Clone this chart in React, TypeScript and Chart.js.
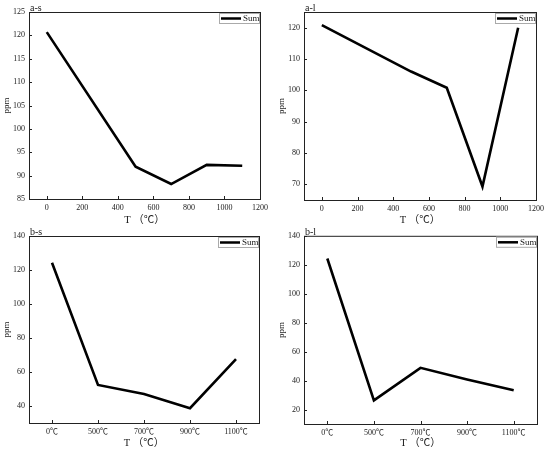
import { useEffect, useRef } from 'react';
import { Chart, registerables } from 'chart.js';

Chart.register(...registerables);

const FONT = "'Liberation Serif', 'Noto Sans CJK SC', serif";
const INK = '#1a1a1a';

// top row: temperature on a linear axis
const aTemps = [0, 500, 700, 900, 1100];
const asValues = [120.7, 91.9, 88.2, 92.3, 92.1];
const alValues = [120.8, 106, 100.8, 69.3, 120];
const aXTicks = [0, 200, 400, 600, 800, 1000, 1200];
const asYTicks = [85, 90, 95, 100, 105, 110, 115, 120, 125];
const alYTicks = [70, 80, 90, 100, 110, 120];

// bottom row: temperature as categories
const bCategories = ['0℃', '500℃', '700℃', '900℃', '1100℃'];
const bsValues = [124.3, 52.4, 47.0, 38.7, 67.6];
const blValues = [124.3, 26.3, 48.8, 40.7, 33.3];
const bsYTicks = [40, 60, 80, 100, 120, 140];
const blYTicks = [20, 40, 60, 80, 100, 120, 140];

const SERIES = 'Sum';
const X_TITLE = 'T （℃）';
const Y_TITLE = 'ppm';

const W = 275;
const H = 227;

type Box = { left: number; top: number; right: number; bottom: number; titlePad: number };

type PanelProps = {
  title: string;
  box: Box;
  xKind: 'linear' | 'category';
  values: number[];
  yMin: number;
  yMax: number;
  yTicks: number[];
};

// frame, inward ticks, panel label and boxed legend
const decorPlugin = {
  id: 'decor',
  afterDatasetsDraw(chart: any, _args: any, opts: any) {
    const { ctx, chartArea: a, scales } = chart;
    const x = scales.x;
    const y = scales.y;
    ctx.save();
    ctx.strokeStyle = '#222';
    ctx.lineWidth = 1;
    ctx.strokeRect(a.left + 0.5, a.top + 0.5, a.right - a.left, a.bottom - a.top);

    ctx.beginPath();
    x.ticks.forEach((_t: any, i: number) => {
      const px = Math.round(x.getPixelForTick(i)) + 0.5;
      ctx.moveTo(px, a.bottom);
      ctx.lineTo(px, a.bottom - 3);
    });
    y.ticks.forEach((_t: any, i: number) => {
      const py = Math.round(y.getPixelForTick(i)) + 0.5;
      ctx.moveTo(a.left, py);
      ctx.lineTo(a.left + 3, py);
    });
    ctx.stroke();

    // panel label
    ctx.fillStyle = INK;
    ctx.font = `10px ${FONT}`;
    ctx.textBaseline = 'alphabetic';
    ctx.textAlign = 'left';
    ctx.fillText(opts.label, a.left + 1, a.top - 1);

    // legend
    const lw = 41;
    const lh = 11;
    const lx = a.right - lw;
    const ly = a.top + 1;
    ctx.fillStyle = '#fff';
    ctx.fillRect(lx, ly, lw, lh);
    ctx.strokeStyle = '#aaa';
    ctx.strokeRect(lx + 0.5, ly + 0.5, lw - 1, lh - 1);
    ctx.strokeStyle = '#000';
    ctx.lineWidth = 2.5;
    ctx.beginPath();
    ctx.moveTo(lx + 2, ly + lh / 2);
    ctx.lineTo(lx + 22, ly + lh / 2);
    ctx.stroke();
    ctx.fillStyle = INK;
    ctx.font = `9px ${FONT}`;
    ctx.textBaseline = 'middle';
    ctx.fillText(chart.data.datasets[0].label, lx + 24, ly + lh / 2 + 0.5);
    ctx.restore();
  },
};

function Panel({ title, box, xKind, values, yMin, yMax, yTicks }: PanelProps) {
  const canvasRef = useRef<HTMLCanvasElement>(null);

  useEffect(() => {
    if (!canvasRef.current) return;
    const tickFont = { family: FONT, size: 8 };
    const isLinear = xKind === 'linear';

    const xScale: any = isLinear
      ? {
          type: 'linear',
          min: -100,
          max: 1200,
          afterBuildTicks: (s: any) => {
            s.ticks = aXTicks.map((v) => ({ value: v }));
          },
        }
      : { type: 'category', offset: true };

    const chart = new Chart(canvasRef.current, {
      type: 'line',
      data: {
        labels: isLinear ? undefined : bCategories,
        datasets: [
          {
            label: SERIES,
            data: isLinear ? aTemps.map((t, i) => ({ x: t, y: values[i] })) : values,
            borderColor: '#000',
            borderWidth: 2.6,
            pointRadius: 0,
            fill: false,
            tension: 0,
          } as any,
        ],
      },
      options: {
        responsive: false,
        animation: false,
        layout: { padding: { left: 0, top: box.top, right: W - box.right, bottom: 0 } },
        plugins: {
          legend: { display: false },
          tooltip: { enabled: false },
          decor: { label: title },
        } as any,
        scales: {
          x: {
            ...xScale,
            grid: { display: false, drawTicks: false },
            border: { display: false },
            ticks: {
              font: tickFont,
              color: INK,
              padding: 4,
              maxRotation: 0,
              autoSkip: false,
              ...(isLinear ? { callback: (v: any) => String(v) } : {}),
            },
            title: {
              display: true,
              text: X_TITLE,
              font: { family: FONT, size: 10.5 },
              color: INK,
              padding: { top: 0, bottom: box.titlePad },
            },
            afterFit: (s: any) => {
              s.height = H - box.bottom;
            },
          },
          y: {
            type: 'linear',
            min: yMin,
            max: yMax,
            afterBuildTicks: (s: any) => {
              s.ticks = yTicks.map((v) => ({ value: v }));
            },
            grid: { display: false, drawTicks: false },
            border: { display: false },
            ticks: { font: tickFont, color: INK, padding: 4, callback: (v: any) => String(v) },
            title: {
              display: true,
              text: Y_TITLE,
              font: { family: FONT, size: 9 },
              color: INK,
              padding: 1,
            },
            afterFit: (s: any) => {
              s.width = box.left;
            },
          },
        },
      } as any,
      plugins: [decorPlugin],
    });

    return () => chart.destroy();
  }, [title, box, xKind, values, yMin, yMax, yTicks]);

  return <canvas ref={canvasRef} width={W} height={H} style={{ display: 'block', width: W, height: H }} />;
}

const boxAS = { left: 29, top: 12, right: 260, bottom: 199, titlePad: 0 };
const boxAL = { left: 29, top: 12, right: 261, bottom: 200, titlePad: 0 };
const boxBS = { left: 29, top: 9, right: 259, bottom: 196, titlePad: 4 };
const boxBL = { left: 29, top: 8, right: 262, bottom: 197, titlePad: 4 };

export default function App() {
  return (
    <div
      style={{
        position: 'absolute',
        left: 0,
        top: 0,
        width: 550,
        height: 454,
        background: '#fff',
        display: 'grid',
        gridTemplateColumns: `${W}px ${W}px`,
        gridTemplateRows: `${H}px ${H}px`,
      }}
    >
      <Panel title="a-s" box={boxAS} xKind="linear" values={asValues} yMin={85} yMax={125} yTicks={asYTicks} />
      <Panel title="a-l" box={boxAL} xKind="linear" values={alValues} yMin={65} yMax={125} yTicks={alYTicks} />
      <Panel title="b-s" box={boxBS} xKind="category" values={bsValues} yMin={30} yMax={140} yTicks={bsYTicks} />
      <Panel title="b-l" box={boxBL} xKind="category" values={blValues} yMin={10} yMax={140} yTicks={blYTicks} />
    </div>
  );
}
